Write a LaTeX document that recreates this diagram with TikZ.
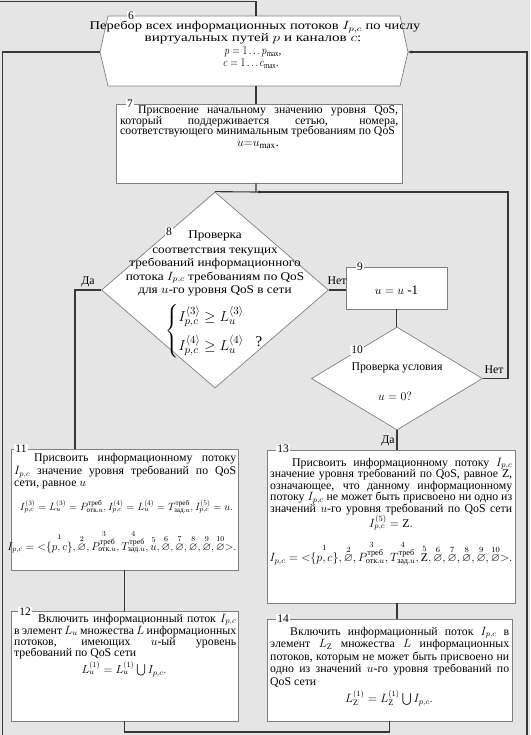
\documentclass[tikz,border=0pt]{standalone}
\usepackage{amsmath,amssymb}
\usepackage{graphicx}
\usepackage{fontspec}
\setmainfont{Liberation Serif}
\usetikzlibrary{shapes.geometric,arrows.meta}
\newcommand{\ipcvec}[1]{I_{p,c}\mathrel{=}\mathopen{<}\overset{1}{\{p,c\}},\overset{2}{\varnothing},\overset{3}{P^{\text{треб}}_{\text{отк.}u}},\overset{4}{T^{\text{треб}}_{\text{зад.}u}},\overset{5}{#1},\overset{6}{\varnothing},\overset{7}{\varnothing},\overset{8}{\varnothing},\overset{9}{\varnothing},\overset{10}{\varnothing}\mathclose{>}.}
\newcommand{\jline}[2]{\makebox[#1][s]{#2}}
\newcommand{\hstretch}[2]{\scalebox{#1}[1]{#2}}
\begin{document}
\begin{tikzpicture}[x=1pt,y=-1pt,
  conn/.style={draw=black!78,line width=1.1pt},
  thinbox/.style={draw=black!50,line width=0.7pt,fill=white},
  numlbl/.style={fill=white,inner sep=1.2pt,font=\fontsize{11.5}{12}\selectfont},
  txt/.style={inner sep=0pt,font=\fontsize{11.8}{12}\selectfont},
  ln/.style={txt,anchor=base west},
  cl/.style={txt,anchor=base},
  arr/.style={-{Stealth[length=4pt,width=3pt]}}
]
\useasboundingbox (0,0) rectangle (530,735);
\fill[black!10] (0,0) rectangle (530,735);

% ---- shapes ----
\draw[thinbox] (100,52) -- (108,16) -- (400,16) -- (408,52) -- (400,86) -- (108,86) -- cycle;
\coordinate (h6w) at (100,52);
\coordinate (h6e) at (408,52);
\coordinate (h6n) at (256,16);
\coordinate (h6s) at (256,86);

\node[thinbox,minimum width=286pt,minimum height=79pt] (b7) at (259,143.5) {};
\node[thinbox,diamond,minimum width=227pt,minimum height=196pt,inner sep=0pt] (d8) at (215,290) {};
\node[thinbox,minimum width=101pt,minimum height=42pt] (b9) at (396.5,288) {};
\node[thinbox,diamond,minimum width=171pt,minimum height=103pt,inner sep=0pt] (d10) at (397,378.5) {};
\node[thinbox,minimum width=227pt,minimum height=121pt] (b11) at (124.5,509.5) {};
\node[thinbox,minimum width=227pt,minimum height=110pt] (b12) at (124.5,666) {};
\node[thinbox,minimum width=248pt,minimum height=153pt] (b13) at (391,526.5) {};
\node[thinbox,minimum width=245pt,minimum height=102pt] (b14) at (389.5,670) {};

% ---- connectors ----
\coordinate (topin) at (0,1.5);
\coordinate (leftout) at (2.5,735);
\coordinate (rightin) at (527,735);
\coordinate (j8) at (256,192);
\coordinate (loopR) at (508,192);
\coordinate (daL) at (75,290);
\coordinate (botY) at (0,732);

\draw[conn] (topin) -- (topin -| h6n) -- (h6n);
\draw[conn] (h6w) -- (h6w -| leftout) -- (leftout);
\draw[conn,arr] (rightin) -- (rightin |- h6e) -- (h6e);
\draw[conn] (h6s) -- (h6s |- b7.north);
\draw[conn] (h6s |- b7.south) -- (j8) -- (d8.north);
\draw[conn,arr] (d10.east) -- (d10.east -| loopR) -- (loopR) -- (j8);
\draw[conn] (d8.west) -- (daL) -- (daL |- b11.north);
\draw[conn] (d8.east) -- (d8.east -| b9.west);
\draw[conn] (b9.south) -- (b9.south |- d10.north);
\draw[conn] (d10.south) -- (d10.south |- b13.north);
\draw[conn] (b11.south) -- (b11.south |- b12.north);
\draw[conn] (d10.south |- b13.south) -- (d10.south |- b14.north);
\draw[conn] (b12.south) -- (b12.south |- botY) -- (b14.south |- botY) -- (b14.south);

% ---- labels on connectors ----
\node[txt] (da1) at (88,282) {Да};
\node[txt] (net1) at (337,281) {Нет};
\node[txt] (net2) at (494,370) {Нет};
\node[txt] (da2) at (388,441) {Да};

% ---- block 6 ----
\node[cl] (t6a) at (255,30) {\hstretch{1.23}{Перебор всех информационных потоков $I_{p,c}$ по числу}};
\node[cl] (t6b) at (253,42) {\hstretch{1.28}{виртуальных путей $p$ и каналов $c$:}};
\node[cl] (t6c) at (253,55) {\hstretch{0.82}{$p=1\ldots p_{\max}$,}};
\node[cl] (t6d) at (251,67) {\hstretch{0.82}{$c=1\ldots c_{\max}$.}};
\node[numlbl] (n6) at (131,16) {6};

% ---- block 7 ----
\node[ln] (t7a) at (120,114) {\jline{278pt}{\hspace*{18pt}Присвоение начальному значению уровня QoS,}};
\node[ln] (t7b) at (120,124.5) {\jline{278pt}{который поддерживается сетью, номера,}};
\node[ln] (t7c) at (120,135) {соответствующего минимальным требованиям по QoS};
\node[txt,font=\fontsize{13}{14}\selectfont] (f7) at (258,145) {$u{=}u_{\mathrm{max}}$.};
\node[numlbl] (n7) at (130,104) {7};

% ---- block 8 ----
\node[cl] (t8a) at (215,238) {\hstretch{1.12}{Проверка}};
\node[cl] (t8b) at (215,253) {\hstretch{1.12}{соответствия текущих}};
\node[cl] (t8c) at (215,266) {\hstretch{1.12}{требований информационного}};
\node[cl] (t8d) at (215,280) {\hstretch{1.12}{потока $I_{p,c}$ требованиям по QoS}};
\node[cl] (t8e) at (215,293) {\hstretch{1.12}{для $u$-го уровня QoS в сети}};
\node[txt,font=\fontsize{15}{17}\selectfont] (f8) at (205,331)
  {$\left\{\begin{array}{@{}l@{}}I^{\langle 3\rangle}_{p,c}\ge L^{\langle 3\rangle}_u\\[8pt] I^{\langle 4\rangle}_{p,c}\ge L^{\langle 4\rangle}_u\end{array}\right.$};
\node[txt,font=\fontsize{15}{17}\selectfont] (q8) at (259,342) {?};
\node[numlbl] (n8) at (169,232) {8};

% ---- block 9 ----
\node[txt,font=\fontsize{13}{14}\selectfont] (t9) at (396.5,290) {$u = u$ -1};
\node[numlbl] (n9) at (360,267) {9};

% ---- block 10 ----
\node[txt] (t10) at (397,368) {Проверка условия};
\node[txt,font=\fontsize{13}{14}\selectfont] (f10) at (395,396) {$u = 0?$};
\node[numlbl] (n10) at (357,350) {10};

% ---- block 11 ----
\node[ln] (t11a) at (14,461) {\jline{222pt}{\hspace*{20pt}Присвоить информационному потоку}};
\node[ln] (t11b) at (14,474.5) {\jline{222pt}{$I_{p,c}$ значение уровня требований по QoS}};
\node[ln] (t11c) at (14,486) {сети, равное $u$};
\node[txt] (f11a) at (126.5,507) {\resizebox{213pt}{!}{$I^{(3)}_{p,c}=L^{(3)}_u=P^{\text{треб}}_{\text{отк.}u},I^{(4)}_{p,c}=L^{(4)}_u=T^{\text{треб}}_{\text{зад.}u},I^{(5)}_{p,c}=u.$}};
\node[txt] (f11b) at (122,542) {\resizebox{229pt}{!}{$\ipcvec{u}$}};
\node[numlbl] (n11) at (21,449) {11};

% ---- block 12 ----
\node[ln] (t12a) at (14,622) {\jline{222pt}{\hspace*{24pt}Включить информационный поток $I_{p,c}$}};
\node[ln] (t12b) at (14,634) {\jline{222pt}{в элемент $L_u$ множества $L$ информационных}};
\node[ln] (t12c) at (14,645) {\jline{222pt}{потоков, имеющих $u$-ый уровень}};
\node[ln] (t12d) at (14,656) {требований по QoS сети};
\node[txt] (f12) at (124,669) {\resizebox{85pt}{!}{$L^{(1)}_u = L^{(1)}_u\bigcup I_{p,c}.$}};
\node[numlbl] (n12) at (25,612) {12};

% ---- block 13 ----
\node[ln] (t13a) at (270,466) {\jline{242pt}{\hspace*{22pt}Присвоить информационному потоку $I_{p,c}$}};
\node[ln] (t13b) at (270,477.5) {\jline{242pt}{значение уровня требований по QoS, равное Z,}};
\node[ln] (t13c) at (270,489) {\jline{242pt}{означающее, что данному информационному}};
\node[ln] (t13d) at (270,500.5) {\jline{242pt}{потоку $I_{p,c}$ не может быть присвоено ни одно из}};
\node[ln] (t13e) at (270,512) {\jline{242pt}{значений $u$-го уровня требований по QoS сети}};
\node[txt] (f13a) at (391,523) {$I^{(5)}_{p,c} = \mathrm{Z}.$};
\node[txt] (f13b) at (391,553) {\resizebox{243pt}{!}{$\ipcvec{\mathrm{Z}}$}};
\node[numlbl] (n13) at (283,449) {13};

% ---- block 14 ----
\node[ln] (t14a) at (270,635) {\jline{239pt}{\hspace*{20pt}Включить информационный поток $I_{p,c}$ в}};
\node[ln] (t14b) at (270,647.5) {\jline{239pt}{элемент $L_{\mathrm{Z}}$ множества $L$ информационных}};
\node[ln] (t14c) at (270,660) {\jline{239pt}{потоков, которым не может быть присвоено ни}};
\node[ln] (t14d) at (270,672.5) {\jline{239pt}{одно из значений $u$-го уровня требований по}};
\node[ln] (t14e) at (270,685) {QoS сети};
\node[txt] (f14) at (389,698) {\resizebox{88pt}{!}{$L^{(1)}_{\mathrm{Z}} = L^{(1)}_{\mathrm{Z}}\bigcup I_{p,c}.$}};
\node[numlbl] (n14) at (283,619) {14};
\end{tikzpicture}
\end{document}
